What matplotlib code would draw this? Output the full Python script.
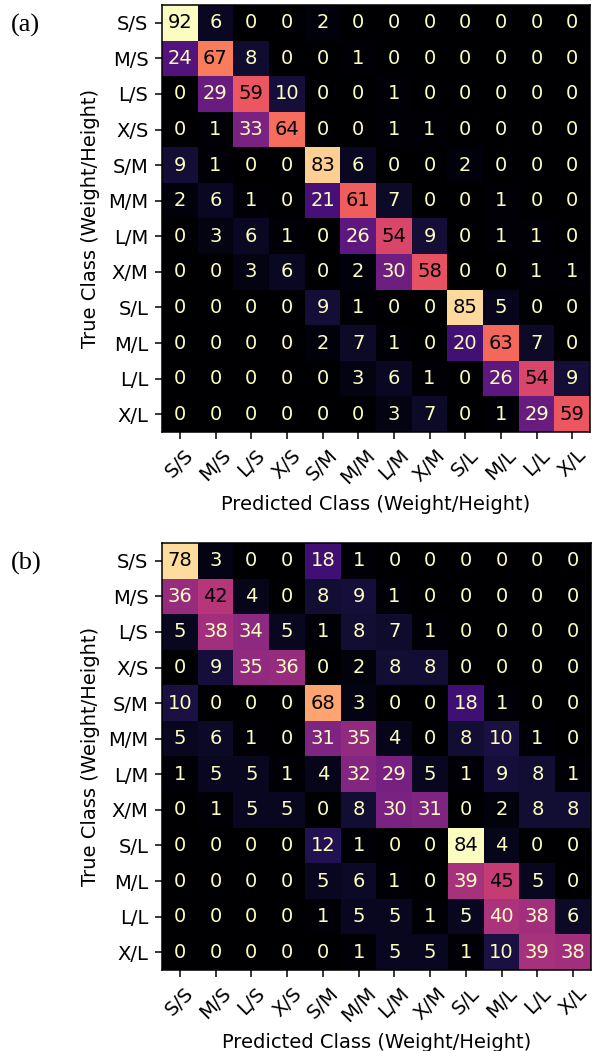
import numpy as np
import matplotlib
matplotlib.use("Agg")
import matplotlib.pyplot as plt

classes = ["S/S", "M/S", "L/S", "X/S", "S/M", "M/M", "L/M", "X/M", "S/L", "M/L", "L/L", "X/L"]

cm_a = [
    [92, 6, 0, 0, 2, 0, 0, 0, 0, 0, 0, 0],
    [24, 67, 8, 0, 0, 1, 0, 0, 0, 0, 0, 0],
    [0, 29, 59, 10, 0, 0, 1, 0, 0, 0, 0, 0],
    [0, 1, 33, 64, 0, 0, 1, 1, 0, 0, 0, 0],
    [9, 1, 0, 0, 83, 6, 0, 0, 2, 0, 0, 0],
    [2, 6, 1, 0, 21, 61, 7, 0, 0, 1, 0, 0],
    [0, 3, 6, 1, 0, 26, 54, 9, 0, 1, 1, 0],
    [0, 0, 3, 6, 0, 2, 30, 58, 0, 0, 1, 1],
    [0, 0, 0, 0, 9, 1, 0, 0, 85, 5, 0, 0],
    [0, 0, 0, 0, 2, 7, 1, 0, 20, 63, 7, 0],
    [0, 0, 0, 0, 0, 3, 6, 1, 0, 26, 54, 9],
    [0, 0, 0, 0, 0, 0, 3, 7, 0, 1, 29, 59],
]

cm_b = [
    [78, 3, 0, 0, 18, 1, 0, 0, 0, 0, 0, 0],
    [36, 42, 4, 0, 8, 9, 1, 0, 0, 0, 0, 0],
    [5, 38, 34, 5, 1, 8, 7, 1, 0, 0, 0, 0],
    [0, 9, 35, 36, 0, 2, 8, 8, 0, 0, 0, 0],
    [10, 0, 0, 0, 68, 3, 0, 0, 18, 1, 0, 0],
    [5, 6, 1, 0, 31, 35, 4, 0, 8, 10, 1, 0],
    [1, 5, 5, 1, 4, 32, 29, 5, 1, 9, 8, 1],
    [0, 1, 5, 5, 0, 8, 30, 31, 0, 2, 8, 8],
    [0, 0, 0, 0, 12, 1, 0, 0, 84, 4, 0, 0],
    [0, 0, 0, 0, 5, 6, 1, 0, 39, 45, 5, 0],
    [0, 0, 0, 0, 1, 5, 5, 1, 5, 40, 38, 6],
    [0, 0, 0, 0, 0, 1, 5, 5, 1, 10, 39, 38],
]

panel_tags = ["(a)", "(b)"]

W, H = 597, 1051
fig = plt.figure(figsize=(W / 100, H / 100), dpi=100)
cmap = plt.get_cmap("magma")
fs = 14  # everything in the source looks like 10pt scaled by ~1.4


def draw_cm(ax, cm):
    cm = np.array(cm)
    ax.imshow(cm, cmap=cmap, aspect="auto", vmin=cm.min(), vmax=cm.max(),
              interpolation="nearest")
    # sklearn style: light text on dark cells, dark text on bright ones
    thresh = (cm.max() + cm.min()) / 2.0
    for i in range(cm.shape[0]):
        for j in range(cm.shape[1]):
            col = cmap(1.0) if cm[i, j] < thresh else cmap(0.0)
            ax.text(j, i, str(cm[i, j]), ha="center", va="center",
                    color=col, fontsize=fs)
    n = len(classes)
    ax.set_xticks(range(n))
    ax.set_yticks(range(n))
    ax.set_xticklabels(classes, rotation=45, fontsize=fs)
    ax.set_yticklabels(classes, fontsize=fs)
    ax.tick_params(length=4.9, width=1.1, pad=4.9)
    for s in ax.spines.values():
        s.set_linewidth(1.1)
    ax.set_xlabel("Predicted Class (Weight/Height)", fontsize=fs, labelpad=5.6)
    ax.set_ylabel("True Class (Weight/Height)", fontsize=fs, labelpad=5.6)


# axes positions in pixels: left, top, right, bottom
boxes = [(162, 5, 590, 432), (162, 543, 591, 970)]
for (l, t, r, b), cm, tag in zip(boxes, [cm_a, cm_b], panel_tags):
    ax = fig.add_axes([l / W, (H - b) / H, (r - l) / W, (b - t) / H])
    draw_cm(ax, cm)
    fig.text(11 / W, 1 - (t + 20) / H, tag, fontsize=19,
             family="Liberation Serif", va="center", ha="left")

fig.savefig("out.png", dpi=100)
